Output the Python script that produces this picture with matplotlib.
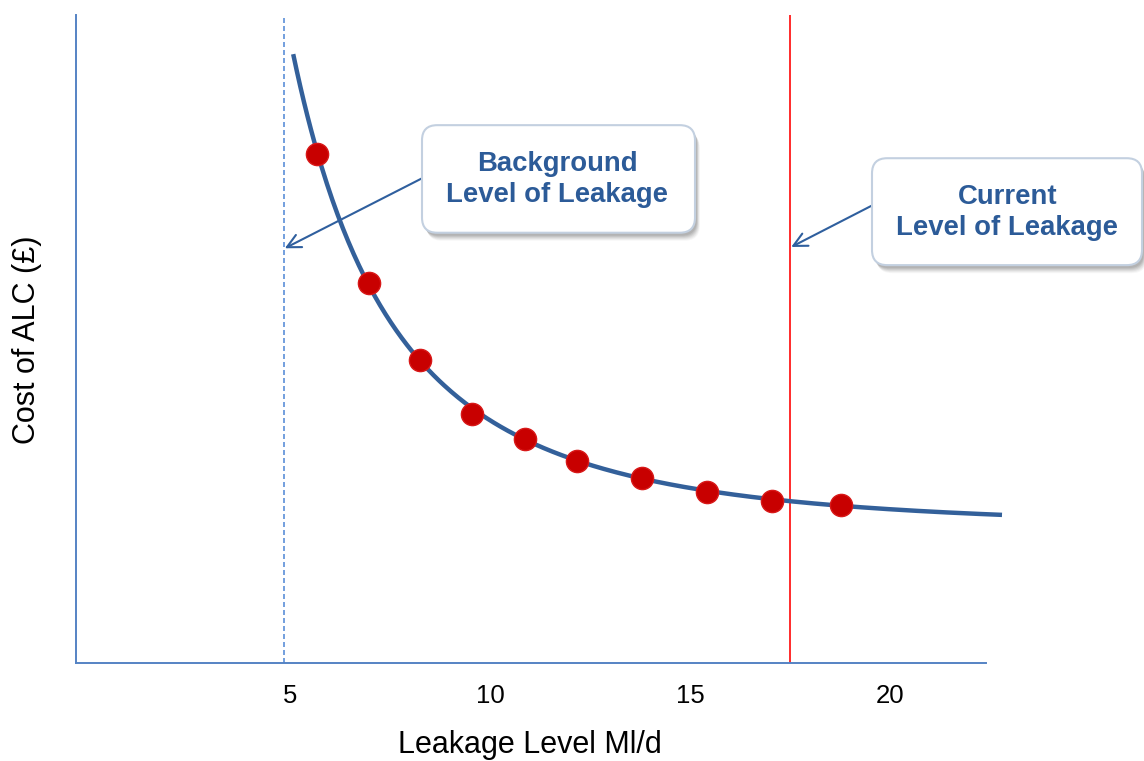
import numpy as np
import matplotlib
matplotlib.use("Agg")
import matplotlib.pyplot as plt
from matplotlib.patches import FancyBboxPatch

plt.rcParams['font.family'] = ['Liberation Sans', 'DejaVu Sans']

# ALC cost curve (leakage in Ml/d, cost in relative units)
curve_leakage = [5.08, 5.38, 5.54, 5.96, 6.42, 6.98, 7.67, 8.25, 8.67, 9.55,
                 10.88, 12.18, 13.80, 15.43, 17.05, 18.78, 20.25, 22.80]
curve_cost = [94.7, 85.9, 80.7, 73.0, 65.3, 58.7, 52.4, 46.7, 44.0, 38.4,
              34.6, 31.2, 28.6, 26.4, 25.0, 24.1, 23.6, 23.3]

# sampled ALC cost points
sample_leakage = [5.67, 6.98, 8.25, 9.55, 10.88, 12.18, 13.80, 15.43, 17.05, 18.78]
sample_cost = [78.5, 58.7, 46.7, 38.4, 34.6, 31.2, 28.6, 26.4, 25.0, 24.4]

x_ticks = [5, 10, 15, 20]
background_level = 4.85
current_level = 17.5

x_label = "Leakage Level Ml/d"
y_label = "Cost of ALC (£)"
background_text = "Background\nLevel of Leakage"
current_text = "Current\nLevel of Leakage"

W, H = 1144, 761
fig = plt.figure(figsize=(W / 100, H / 100), dpi=100)
ax = fig.add_axes([76 / W, 1 - 663 / H, (986 - 76) / W, (663 - 15) / H])
ax.set_xlim(-0.35, 22.4)
ax.set_ylim(0, 100)

axis_blue = '#5583c4'
for side in ('top', 'right'):
    ax.spines[side].set_visible(False)
for side in ('left', 'bottom'):
    ax.spines[side].set_color(axis_blue)
    ax.spines[side].set_linewidth(1.4)

ax.set_xticks(x_ticks)
ax.set_yticks([])
ax.tick_params(axis='x', length=0, pad=15, labelsize=18.5, labelcolor='black')

ax.set_xlabel(x_label, fontsize=22, va='center')
ax.xaxis.set_label_coords((530 - 76) / 910, -(745 - 663) / 648)
ax.set_ylabel(y_label, fontsize=22, va='center')
ax.yaxis.set_label_coords(-(76 - 27) / 910, (663 - 340) / 648)

# reference levels
ax.axvline(background_level, color='#5b8fd8', lw=1.2, ls=(0, (3, 1.8)), zorder=2)
ax.axvline(current_level, color='#ff1a1a', lw=1.3, zorder=2)

# smooth trend through the curve readings
u = 1.0 / np.asarray(curve_leakage)
coef = np.polyfit(u, curve_cost, 3)
xs = np.linspace(curve_leakage[0], curve_leakage[-1], 400)
ax.plot(xs, np.polyval(coef, 1.0 / xs), color='#33609a', lw=3.2,
        solid_capstyle='butt', clip_on=False, zorder=3)

ax.plot(sample_leakage, sample_cost, 'o', ms=16, color='#c80000',
        mec='#d81818', mew=1.0, zorder=4)

# callout boxes
PX_X = 40.0   # pixels per x unit
PX_Y = 6.48   # pixels per y unit
aspect = PX_X / PX_Y


def callout(x0, y0, x1, y1, text, tx, ty):
    w, h = x1 - x0, y1 - y0
    for off, alpha in [(8, 0.05), (7, 0.07), (6, 0.09), (5, 0.11), (4, 0.13), (3, 0.14)]:
        sh = FancyBboxPatch((x0 + off / PX_X * 0.6, y0 - off / PX_Y), w, h,
                            boxstyle="round,pad=0,rounding_size=0.38",
                            mutation_aspect=aspect, facecolor='#5f5f5f',
                            edgecolor='none', alpha=alpha, clip_on=False, zorder=5)
        ax.add_patch(sh)
    box = FancyBboxPatch((x0, y0), w, h,
                         boxstyle="round,pad=0,rounding_size=0.38",
                         mutation_aspect=aspect, facecolor='white',
                         edgecolor='#c3d0e0', lw=1.5, clip_on=False, zorder=6)
    ax.add_patch(box)
    ax.text(tx, ty, text, ha='center', va='center', fontsize=19.8,
            fontweight='bold', color='#2c5b98', linespacing=1.22,
            zorder=7, clip_on=False)


def arrow(tip, tail):
    ax.annotate("", xy=tip, xytext=tail,
                arrowprops=dict(arrowstyle="->,head_length=0.7,head_width=0.35",
                                color='#2f5f9e', lw=1.5, shrinkA=0, shrinkB=0,
                                mutation_scale=14),
                annotation_clip=False, zorder=5)


arrow((background_level + 0.02, 64.0), (8.3, 74.8))
callout(8.3, 66.4, 15.125, 83.0, background_text, 11.68, 74.6)

arrow((current_level + 0.03, 64.2), (19.55, 70.6))
callout(19.55, 61.4, 26.3, 77.9, current_text, 22.93, 69.5)

fig.savefig('out.png', dpi=100)
